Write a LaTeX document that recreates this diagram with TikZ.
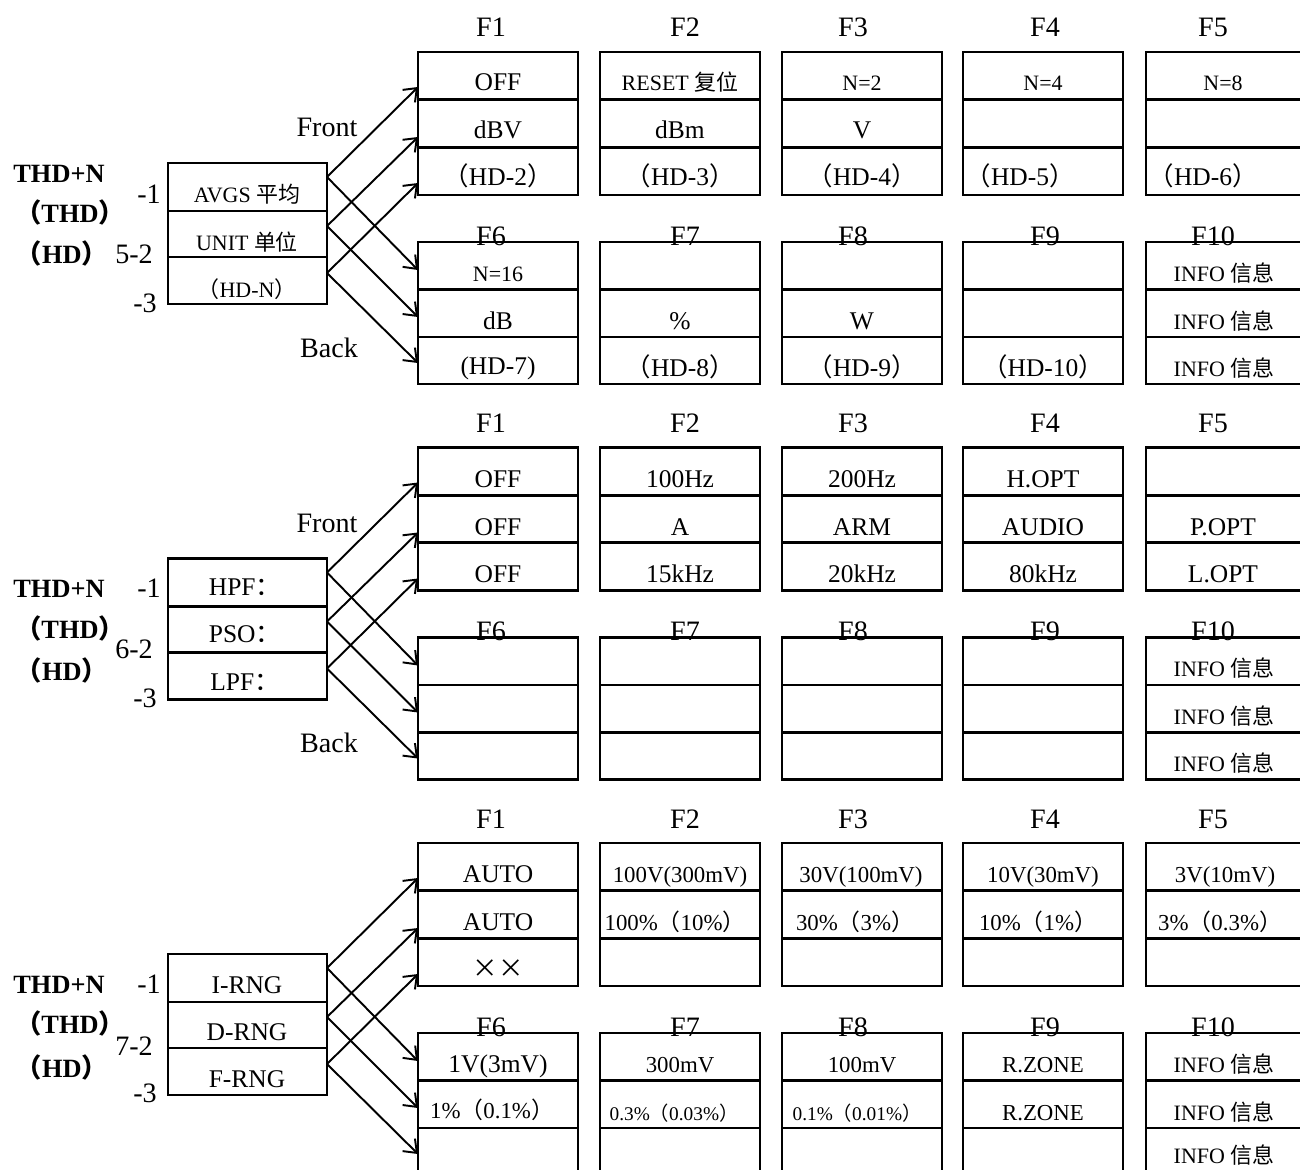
\documentclass[tikz,border=0pt]{standalone}
\usepackage{fontspec}
\setmainfont{Liberation Serif}
\newfontfamily\zhfont{Noto Sans CJK SC}
\usepackage{tikz}
\usetikzlibrary{arrows.meta}
\newcommand\zh[1]{{\zhfont #1}}
\newcommand\fwp[1]{\zh{（}#1\zh{）}}
\newcommand\fsbig{\fontsize{16}{19}\selectfont}
\newcommand\fsside{\fontsize{15}{18}\selectfont\bfseries}
\newcommand\fsmain{\fontsize{14.5}{17}\selectfont}
\newcommand\fsmid{\fontsize{13}{15}\selectfont}
\newcommand\fssmall{\fontsize{12.5}{15}\selectfont}
\newcommand\fstiny{\fontsize{11}{13}\selectfont}

\begin{document}
\begin{tikzpicture}[x=0.02cm, y=-0.02cm,
  box/.style={line width=1.5pt},
  arr/.style={line width=1.1pt, -{Straight Barb[length=6.5pt,width=10pt]}},
  flab/.style={font=\fsbig, anchor=base},
  sidelab/.style={font=\fsside, anchor=base},
  txt/.style={font=\fsmain, anchor=base},
  midt/.style={font=\fsmid, anchor=base},
  sml/.style={font=\fssmall, anchor=base},
  tny/.style={font=\fstiny, anchor=base}]

  \useasboundingbox (0,0) rectangle (1300,1169);
  \clip (0,0) rectangle (1300,1169);

  % three panels, same frame
  \foreach \oy/\p in {0/a, 395.5/b, 791/c} {
    \foreach \x/\lx/\n in {418/491/1, 600/685/2, 782/853/3, 963/1045/4, 1146/1213/5} {
      \node[flab] (\p f\n) at (\lx,37+\oy) {F\n};
      \pgfmathtruncatemacro{\m}{\n+5}
      \node[flab] (\p f\m) at (\lx,245+\oy) {F\m};
      \draw[box] (\x,52+\oy) rectangle ++(160,143);
      \draw[box] (\x,99.7+\oy) -- ++(160,0) (\x,147.3+\oy) -- ++(160,0);
      \draw[box] (\x,242+\oy) rectangle ++(160,142);
      \draw[box] (\x,289.5+\oy) -- ++(160,0) (\x,337+\oy) -- ++(160,0);
    }
    \draw[box] (168,163+\oy) rectangle (327,304+\oy);
    \draw[box] (168,211+\oy) -- (327,211+\oy) (168,257+\oy) -- (327,257+\oy);
    \foreach \k/\ys/\yu/\yd in {1/177/87/270, 2/226/137/317, 3/273/183/363} {
      \coordinate (\p s\k) at (327,\ys+\oy);
      \coordinate (\p u\k) at (418,\yu+\oy);
      \coordinate (\p d\k) at (418,\yd+\oy);
      \draw[arr] (\p s\k) -- (\p u\k);
      \draw[arr] (\p s\k) -- (\p d\k);
    }
  }

  % panel 1
  \node[sidelab] (a-thdn) at (59,182) {THD+N};
  \node[sidelab] (a-thd) at (70,222) {\fwp{THD}};
  \node[sidelab] (a-hd) at (62,263) {\fwp{HD}};
  \node[flab] (a-n1) at (149,203) {-1};
  \node[flab] (a-n2) at (134,263) {5-2};
  \node[flab] (a-n3) at (145,312) {-3};
  \node[sml] (avgs) at (247,202) {AVGS \zh{平均}};
  \node[sml] (unit) at (247,250) {UNIT \zh{单位}};
  \node[sml] (hdn) at (247,297) {\fwp{HD-N}};
  \node[flab] (a-front) at (327,137) {Front};
  \node[flab] (a-back) at (329,357) {Back};

  \node[txt] (a11) at (498,91) {OFF};
  \node[txt] (a12) at (498,139) {dBV};
  \node[txt] (a13) at (498,186) {\fwp{HD-2}};
  \node[sml] (a21) at (680,91) {RESET \zh{复位}};
  \node[txt] (a22) at (680,139) {dBm};
  \node[txt] (a23) at (680,186) {\fwp{HD-3}};
  \node[sml] (a31) at (862,91) {N=2};
  \node[txt] (a32) at (862,139) {V};
  \node[txt] (a33) at (862,186) {\fwp{HD-4}};
  \node[sml] (a41) at (1043,91) {N=4};
  \node[txt] (a43) at (1020,186) {\fwp{HD-5}};
  \node[sml] (a51) at (1223,91) {N=8};
  \node[txt] (a53) at (1203,186) {\fwp{HD-6}};
  \node[sml] (a61) at (498,281) {N=16};
  \node[txt] (a62) at (498,329) {dB};
  \node[txt] (a63) at (498,374) {(HD-7)};
  \node[txt] (a72) at (680,329) {\%};
  \node[txt] (a73) at (680,376) {\fwp{HD-8}};
  \node[txt] (a82) at (862,329) {W};
  \node[txt] (a83) at (862,376) {\fwp{HD-9}};
  \node[txt] (a93) at (1043,376) {\fwp{HD-10}};
  \node[sml] (a101) at (1224,281) {INFO \zh{信息}};
  \node[sml] (a102) at (1224,329) {INFO \zh{信息}};
  \node[sml] (a103) at (1224,376) {INFO \zh{信息}};

  % panel 2
  \node[sidelab] (b-thdn) at (59,597) {THD+N};
  \node[sidelab] (b-thd) at (70,638) {\fwp{THD}};
  \node[sidelab] (b-hd) at (62,680) {\fwp{HD}};
  \node[flab] (b-n1) at (149,597) {-1};
  \node[flab] (b-n2) at (134,658) {6-2};
  \node[flab] (b-n3) at (145,707) {-3};
  \node[txt] (hpf) at (245,595) {HPF\zh{：}};
  \node[txt] (pso) at (245,642) {PSO\zh{：}};
  \node[txt] (lpf) at (245,690) {LPF\zh{：}};
  \node[flab] (b-front) at (327,532) {Front};
  \node[flab] (b-back) at (329,752) {Back};

  \node[txt] (b11) at (498,487) {OFF};
  \node[txt] (b12) at (498,535) {OFF};
  \node[txt] (b13) at (498,582) {OFF};
  \node[txt] (b21) at (680,487) {100Hz};
  \node[txt] (b22) at (680,535) {A};
  \node[txt] (b23) at (680,582) {15kHz};
  \node[txt] (b31) at (862,487) {200Hz};
  \node[txt] (b32) at (862,535) {ARM};
  \node[txt] (b33) at (862,582) {20kHz};
  \node[txt] (b41) at (1043,487) {H.OPT};
  \node[txt] (b42) at (1043,535) {AUDIO};
  \node[txt] (b43) at (1043,582) {80kHz};
  \node[txt] (b52) at (1223,535) {P.OPT};
  \node[txt] (b53) at (1223,582) {L.OPT};
  \node[sml] (b101) at (1224,676) {INFO \zh{信息}};
  \node[sml] (b102) at (1224,724) {INFO \zh{信息}};
  \node[sml] (b103) at (1224,771) {INFO \zh{信息}};

  % panel 3
  \node[sidelab] (c-thdn) at (59,993) {THD+N};
  \node[sidelab] (c-thd) at (70,1033) {\fwp{THD}};
  \node[sidelab] (c-hd) at (62,1077) {\fwp{HD}};
  \node[flab] (c-n1) at (149,993) {-1};
  \node[flab] (c-n2) at (134,1055) {7-2};
  \node[flab] (c-n3) at (145,1102) {-3};
  \node[txt] (irng) at (247,993) {I-RNG};
  \node[txt] (drng) at (247,1040) {D-RNG};
  \node[txt] (frng) at (247,1087) {F-RNG};

  \node[txt] (c11) at (498,882) {AUTO};
  \node[txt] (c12) at (498,930) {AUTO};
  \node[txt] (c13) at (498,977) {\zh{××}};
  \node[midt] (c21) at (680,882) {100V(300mV)};
  \node[midt] (c22) at (675,930) {100\%\zh{（}10\%\zh{）}};
  \node[midt] (c31) at (861,882) {30V(100mV)};
  \node[midt] (c32) at (855,930) {30\%\zh{（}3\%\zh{）}};
  \node[midt] (c41) at (1043,882) {10V(30mV)};
  \node[midt] (c42) at (1038,930) {10\%\zh{（}1\%\zh{）}};
  \node[midt] (c51) at (1225,882) {3V(10mV)};
  \node[midt] (c52) at (1220,930) {3\%\zh{（}0.3\%\zh{）}};
  \node[txt] (c61) at (498,1072) {1V(3mV)};
  \node[midt] (c62) at (492,1118) {1\%\zh{（}0.1\%\zh{）}};
  \node[midt] (c71) at (680,1072) {300mV};
  \node[tny] (c72) at (674,1120) {0.3\%\zh{（}0.03\%\zh{）}};
  \node[midt] (c81) at (862,1072) {100mV};
  \node[tny] (c82) at (857,1120) {0.1\%\zh{（}0.01\%\zh{）}};
  \node[midt] (c91) at (1043,1072) {R.ZONE};
  \node[midt] (c92) at (1043,1120) {R.ZONE};
  \node[sml] (c101) at (1224,1072) {INFO \zh{信息}};
  \node[sml] (c102) at (1224,1120) {INFO \zh{信息}};
  \node[sml] (c103) at (1224,1163) {INFO \zh{信息}};

\end{tikzpicture}
\end{document}
